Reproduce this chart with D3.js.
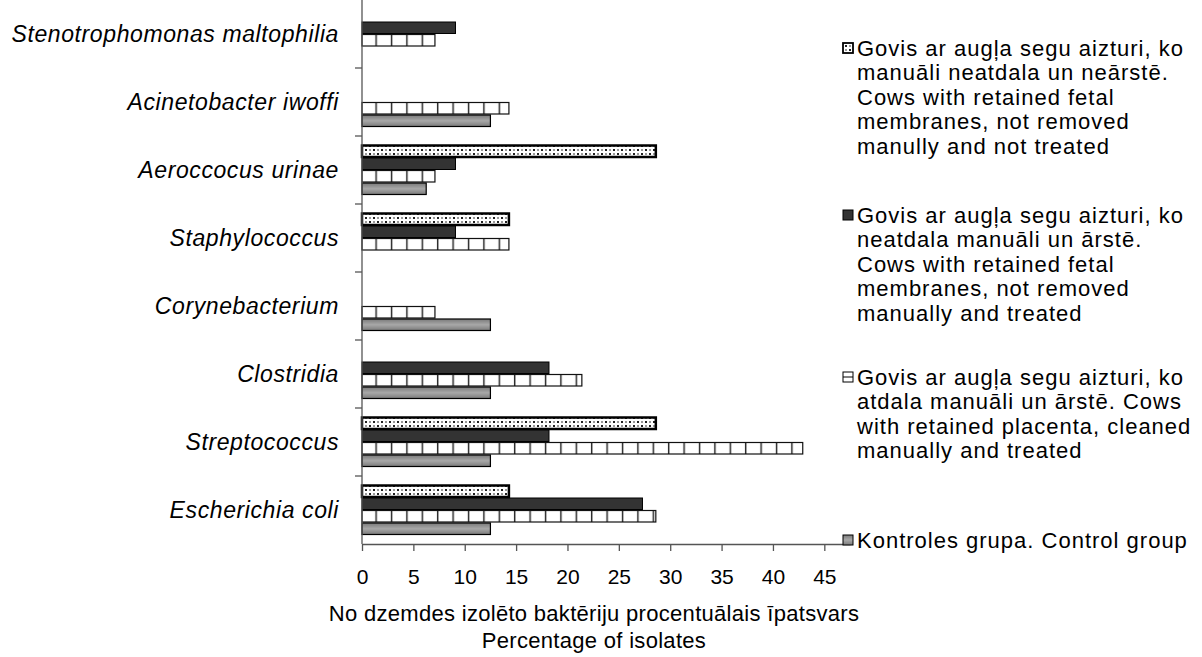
<!DOCTYPE html>
<html>
<head>
<meta charset="utf-8">
<script src="https://cdn.jsdelivr.net/npm/d3@7"></script>
<style>
  html, body { margin: 0; padding: 0; background: #fff; }
  svg { display: block; font-family: "Liberation Sans", Arial, sans-serif; }
</style>
</head>
<body>
<svg id="chart" width="1202" height="657"></svg>
<script>
// Bacteria isolated from the uterus, top to bottom
const categories = [
  "Stenotrophomonas maltophilia",
  "Acinetobacter iwoffi",
  "Aeroccocus urinae",
  "Staphylococcus",
  "Corynebacterium",
  "Clostridia",
  "Streptococcus",
  "Escherichia coli"
];

// Percentage of isolates per group (same order as categories)
const notRemovedNotTreated = [0, 0, 28.6, 14.3, 0, 0, 28.6, 14.3];
const notRemovedTreated    = [9.1, 0, 9.1, 9.1, 0, 18.2, 18.2, 27.3];
const cleanedTreated       = [7.1, 14.3, 7.1, 14.3, 7.1, 21.4, 42.9, 28.6];
const controlGroup         = [0, 12.5, 6.25, 0, 12.5, 12.5, 12.5, 12.5];

const xTicks = [0, 5, 10, 15, 20, 25, 30, 35, 40, 45];

const seriesNames = [
  ["Govis ar augļa segu aizturi, ko", "manuāli neatdala un neārstē.", "Cows with retained fetal", "membranes, not removed", "manully and not treated"],
  ["Govis ar augļa segu aizturi, ko", "neatdala manuāli un ārstē.", "Cows with retained fetal", "membranes, not removed", "manually and treated"],
  ["Govis ar augļa segu aizturi, ko", "atdala manuāli un ārstē. Cows", "with retained placenta, cleaned", "manually and treated"],
  ["Kontroles grupa. Control group"]
];

const axisTitle = ["No dzemdes izolēto baktēriju procentuālais īpatsvars", "Percentage of isolates"];

const seriesValues = [notRemovedNotTreated, notRemovedTreated, cleanedTreated, controlGroup];

const svg = d3.select("#chart");
const defs = svg.append("defs");

// Dotted fill
const pDot = defs.append("pattern").attr("id", "pDot")
  .attr("patternUnits", "userSpaceOnUse").attr("width", 8).attr("height", 8);
pDot.append("rect").attr("width", 8).attr("height", 8).attr("fill", "#fff");
pDot.append("rect").attr("x", 1).attr("y", 1).attr("width", 2).attr("height", 2).attr("fill", "#222");
pDot.append("rect").attr("x", 5).attr("y", 5).attr("width", 2).attr("height", 2).attr("fill", "#222");
pDot.append("rect").attr("x", 5).attr("y", 1).attr("width", 2).attr("height", 2).attr("fill", "#999");
pDot.append("rect").attr("x", 1).attr("y", 5).attr("width", 2).attr("height", 2).attr("fill", "#999");

// Brick-grid fill
const pGrid = defs.append("pattern").attr("id", "pGrid")
  .attr("patternUnits", "userSpaceOnUse").attr("width", 15.4).attr("height", 12.5)
  .attr("x", 362).attr("y", 0);
pGrid.append("rect").attr("width", 15.4).attr("height", 12.5).attr("fill", "#fff");
pGrid.append("rect").attr("x", 13.4).attr("y", 0).attr("width", 1.2).attr("height", 12.5).attr("fill", "#222");
pGrid.append("rect").attr("x", 14.6).attr("y", 0).attr("width", 0.8).attr("height", 12.5).attr("fill", "#999");

// Control gradient
const gGray = defs.append("linearGradient").attr("id", "gGray")
  .attr("x1", 0).attr("y1", 0).attr("x2", 0).attr("y2", 1);
gGray.append("stop").attr("offset", "0%").attr("stop-color", "#7a7a7a");
gGray.append("stop").attr("offset", "50%").attr("stop-color", "#a8a8a8");
gGray.append("stop").attr("offset", "100%").attr("stop-color", "#7a7a7a");

const seriesStyle = [
  { fill: "url(#pDot)", stroke: "#000", sw: 2.5 },
  { fill: "#333333", stroke: "#000", sw: 1 },
  { fill: "url(#pGrid)", stroke: "#111", sw: 1.2 },
  { fill: "url(#gGray)", stroke: "#000", sw: 1.2 }
];

const x = d3.scaleLinear().domain([0, 47.5]).range([362, 850]);
const y = d3.scaleBand().domain(categories).range([0, 544]).padding(0);
const ySub = d3.scaleBand().domain(d3.range(4)).range([9, y.bandwidth() - 9]).padding(0);

// Bars
const groups = svg.append("g").selectAll("g")
  .data(categories).join("g")
  .attr("transform", d => `translate(0,${y(d)})`);

groups.each(function(cat, ci) {
  const g = d3.select(this);
  seriesValues.forEach((vals, si) => {
    const v = vals[ci];
    if (!v) return;
    const st = seriesStyle[si];
    g.append("rect")
      .attr("x", x(0))
      .attr("y", ySub(si) + 0.5)
      .attr("width", x(v) - x(0))
      .attr("height", ySub.bandwidth() - 1)
      .attr("fill", st.fill)
      .attr("stroke", st.stroke)
      .attr("stroke-width", st.sw);
  });
});

// X axis
const xAxis = svg.append("g").attr("transform", "translate(0,544)")
  .call(d3.axisBottom(x).tickValues(xTicks).tickSize(7).tickSizeOuter(0).tickPadding(18));
xAxis.select(".domain").attr("stroke", "#555").attr("stroke-width", 1.3);
xAxis.selectAll(".tick line").attr("stroke", "#555").attr("stroke-width", 1.3);
xAxis.selectAll(".tick text").attr("font-size", 21).attr("fill", "#000")
  .attr("font-family", "Liberation Sans, Arial, sans-serif");

// Y axis line with ticks between categories
const yAxisG = svg.append("g");
yAxisG.append("line").attr("x1", x(0)).attr("x2", x(0)).attr("y1", 0).attr("y2", 544)
  .attr("stroke", "#555").attr("stroke-width", 1.3);
yAxisG.selectAll("line.tk").data(categories.slice(1)).join("line").attr("class", "tk")
  .attr("x1", x(0) - 7).attr("x2", x(0))
  .attr("y1", d => y(d)).attr("y2", d => y(d))
  .attr("stroke", "#555").attr("stroke-width", 1.3);

// Category labels
svg.append("g").selectAll("text").data(categories).join("text")
  .attr("x", 339)
  .attr("y", d => y(d) + y.bandwidth() / 2)
  .attr("dy", "0.35em")
  .attr("text-anchor", "end")
  .attr("font-style", "italic")
  .attr("font-size", 23)
  .attr("letter-spacing", 0.6)
  .text(d => d);

// Axis title
svg.append("g").selectAll("text").data(axisTitle).join("text")
  .attr("x", 594)
  .attr("y", (d, i) => 613 + i * 27)
  .attr("dy", "0.35em")
  .attr("text-anchor", "middle")
  .attr("font-size", 22)
  .attr("letter-spacing", 0.3)
  .text(d => d);

// Legend
const legendTop = [48, 215, 377, 540];
const legend = svg.append("g");
seriesNames.forEach((lines, si) => {
  const st = seriesStyle[si];
  const lg = legend.append("g");
  lg.append("rect")
    .attr("x", 843).attr("y", legendTop[si] - 5)
    .attr("width", 10).attr("height", 10)
    .attr("fill", si === 2 ? "#fff" : st.fill)
    .attr("stroke", "#000").attr("stroke-width", si === 0 ? 1.8 : 1);
  if (si === 2) {
    lg.append("line").attr("x1", 843).attr("x2", 853)
      .attr("y1", legendTop[si]).attr("y2", legendTop[si])
      .attr("stroke", "#000").attr("stroke-width", 1);
  }
  lg.selectAll("text").data(lines).join("text")
    .attr("x", 857)
    .attr("y", (d, i) => legendTop[si] + i * 24.5)
    .attr("dy", "0.35em")
    .attr("font-size", 22)
    .attr("letter-spacing", 1.0)
    .text(d => d);
});
</script>
</body>
</html>
